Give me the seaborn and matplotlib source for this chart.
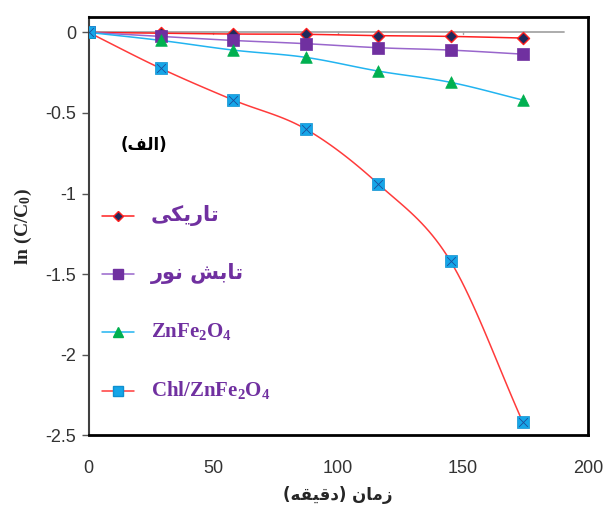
import numpy as np
import pandas as pd
import matplotlib
matplotlib.use("Agg")
import matplotlib.pyplot as plt
from matplotlib.lines import Line2D
import seaborn as sns

# ---------------- data ----------------
time_min = [0, 29, 58, 87, 116, 145, 174]
dark = [0, -0.005, -0.010, -0.012, -0.020, -0.025, -0.035]
light = [0, -0.025, -0.050, -0.070, -0.095, -0.110, -0.135]
znfe2o4 = [0, -0.050, -0.110, -0.155, -0.240, -0.310, -0.420]
chl_znfe2o4 = [0, -0.224, -0.420, -0.600, -0.940, -1.420, -2.420]

# labels (Persian text given in presentation forms, visual order)
lab_dark = "\uFBFD\uFB91\uFBFE\uFEAD\uFE8E\uFE97"          # تاریکی
lab_light = "\uFEAD\uFEEE\uFEE7 \uFEB6\uFE91\uFE8E\uFE97"  # تابش نور
lab_zn = r"$\mathbf{ZnFe_2O_4}$"
lab_chl = r"$\mathbf{Chl/ZnFe_2O_4}$"
panel_label = "(\uFED2\uFEDF\uFE8D)"                      # (الف)
x_label = "(\uFEEA\uFED8\uFBFF\uFED7\uFEA9) \uFEE5\uFE8E\uFEE3\uFEAF"  # زمان (دقیقه)
y_label = r"$\mathbf{ln\ (C/C_0)}$"
xticks = [0, 50, 100, 150, 200]
yticks = [0, -0.5, -1, -1.5, -2, -2.5]

sns.set_style("white")
plt.rcParams["mathtext.fontset"] = "custom"
plt.rcParams["mathtext.rm"] = "Liberation Serif:bold"
plt.rcParams["mathtext.bf"] = "Liberation Serif:bold"
plt.rcParams["mathtext.it"] = "Liberation Serif:bold"
plt.rcParams["font.family"] = ["Liberation Sans Narrow", "Liberation Sans", "DejaVu Sans"]


def smooth(x, y, n=20):
    """Catmull-Rom smoothing of a polyline (line rendering only)."""
    x = np.asarray(x, float); y = np.asarray(y, float)
    px = np.concatenate([[2 * x[0] - x[1]], x, [2 * x[-1] - x[-2]]])
    py = np.concatenate([[2 * y[0] - y[1]], y, [2 * y[-1] - y[-2]]])
    xs, ys = [], []
    for i in range(1, len(px) - 2):
        t = np.linspace(0, 1, n, endpoint=False)
        for p, out in ((px, xs), (py, ys)):
            p0, p1, p2, p3 = p[i - 1], p[i], p[i + 1], p[i + 2]
            out.extend(0.5 * ((2 * p1) + (-p0 + p2) * t + (2 * p0 - 5 * p1 + 4 * p2 - p3) * t ** 2
                              + (-p0 + 3 * p1 - 3 * p2 + p3) * t ** 3))
    xs.append(x[-1]); ys.append(y[-1])
    return np.array(xs), np.array(ys)


fig = plt.figure(figsize=(6.11, 5.12), dpi=100)
ax = fig.add_axes([0.145, 0.150, 0.817, 0.816])

series = [
    (lab_dark, dark, "#FF2020", dict(marker="D", s=38, color="#1F2A5C", edgecolor="#FF2020", linewidth=1.0)),
    (lab_light, light, "#9966CC", dict(marker="s", s=70, color="#7030A0", edgecolor="#7030A0", linewidth=0.5)),
    (lab_zn, znfe2o4, "#22B4F0", dict(marker="^", s=70, color="#00B050", edgecolor="#00B050", linewidth=0.5)),
    (lab_chl, chl_znfe2o4, "#FF3B3B", dict(marker="s", s=85, color="#16A6E8", edgecolor="#0E90D0", linewidth=0.5)),
]

# zero line (Excel horizontal axis at 0)
ax.plot([0, 190.5], [0, 0], color="#A6A6A6", lw=1.3, zorder=1)
for xt in [50, 100, 150]:
    ax.plot([xt, xt], [0.0, -0.012], color="#A6A6A6", lw=1.0, zorder=1)

handles = []
for lab, vals, lc, mk in series:
    sx, sy = smooth(time_min, vals)
    sns.lineplot(x=sx, y=sy, ax=ax, color=lc, lw=1.1, sort=False, estimator=None, zorder=2)
    sns.scatterplot(x=time_min, y=vals, ax=ax, zorder=3, **mk)
    if lab == lab_chl:
        sns.scatterplot(x=time_min, y=vals, ax=ax, marker="x", s=40, color="#1D4F9A",
                        linewidth=0.6, zorder=4)
    handles.append(Line2D([], [], color=lc, lw=1.1, marker=mk["marker"],
                          markerfacecolor=mk["color"], markeredgecolor=mk["edgecolor"],
                          markersize=np.sqrt(mk["s"]) * 0.8))

ax.set_xlim(0, 200)
ax.set_ylim(-2.5, 0.093)
ax.set_xticks(xticks)
ax.set_xticklabels([str(v) for v in xticks])
ax.set_yticks(yticks)
ax.set_yticklabels(["0", "-0.5", "-1", "-1.5", "-2", "-2.5"])
ax.tick_params(axis="x", length=0, pad=18, labelsize=13, colors="#333333")
ax.tick_params(axis="y", length=5, width=1, color="#555555", direction="out", left=True,
               labelsize=13, labelcolor="#333333", pad=4)

for side in ["top", "right", "bottom"]:
    ax.spines[side].set_color("black")
    ax.spines[side].set_linewidth(2.0)
ax.spines["left"].set_color("#404040")
ax.spines["left"].set_linewidth(1.5)

leg = ax.legend(handles, [lab_dark, lab_light, lab_zn, lab_chl], loc="upper left",
                bbox_to_anchor=(0.0, 0.584), frameon=False, labelspacing=2.65,
                handlelength=2.3, handletextpad=1.2, borderaxespad=0.6)
for t, lab in zip(leg.get_texts(), [lab_dark, lab_light, lab_zn, lab_chl]):
    t.set_color("#7030A0")
    t.set_fontsize(15)
    if lab in (lab_dark, lab_light):
        t.set_family(["DejaVu Sans"])
        t.set_fontweight("bold")

ax.text(0.11, 0.694, panel_label, transform=ax.transAxes, fontsize=12, fontweight="bold",
        family=["DejaVu Sans"], ha="center", va="center", color="black")

ax.set_xlabel(x_label, fontsize=12, fontweight="bold", family=["DejaVu Sans"], labelpad=6)
ax.set_ylabel(y_label, fontsize=14, labelpad=8)

fig.savefig("out.png", dpi=100)
